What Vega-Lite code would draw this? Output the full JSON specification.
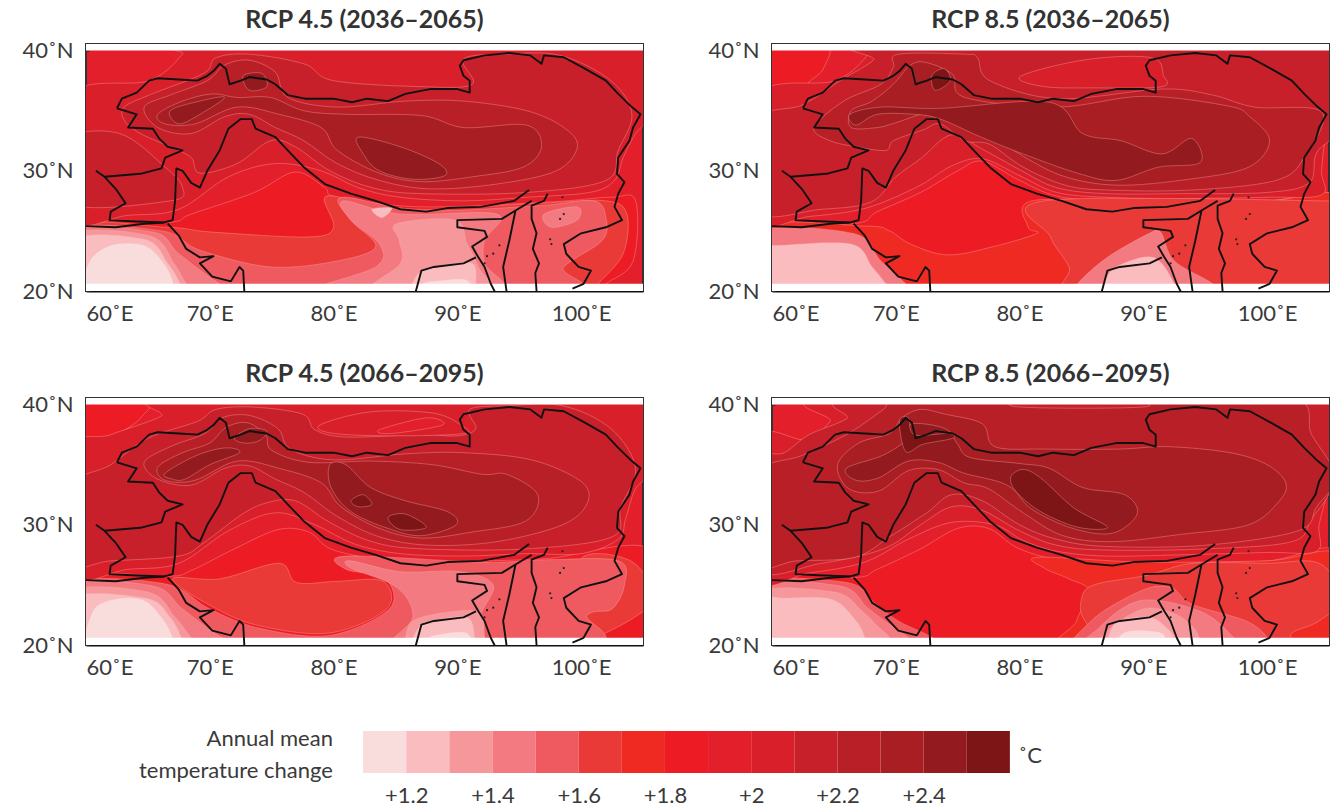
{"$schema":"https://vega.github.io/schema/vega-lite/v6.json","padding":{"left":20,"top":6,"right":5,"bottom":5},"background":"white","spacing":48,
"config":{"axis":{"labelFont":"Lato","labelFontSize":22,"labelColor":"#3a3a3a","grid":false,"title":null,"labelOverlap":false,"zindex":1},"title":{"font":"Lato","fontSize":25,"fontWeight":"bold","color":"#333","offset":7},"view":{"stroke":"#333","strokeWidth":2}},
"datasets":{
"strips":[{"a":40,"b":41},{"a":19,"b":20.6}],
"dots":[{"x":98.5,"y":27.8},{"x":98.3,"y":26},{"x":98.6,"y":26.4},{"x":97.5,"y":24.3},{"x":97.6,"y":23.9},{"x":92.4,"y":22.9},{"x":92.9,"y":23.1},{"x":93.4,"y":23.8},{"x":92.2,"y":22.3}],
"border":[{"b":1,"x":62.5,"y":35.2},{"b":1,"x":62.9,"y":36},{"b":1,"x":64.1,"y":36.5},{"b":1,"x":65.1,"y":37.5},{"b":1,"x":65.8,"y":37.7},{"b":1,"x":67.5,"y":37.6},{"b":1,"x":69,"y":37.5},{"b":1,"x":69.8,"y":37.9},{"b":1,"x":70.3,"y":38.3},{"b":1,"x":70.8,"y":38.9},{"b":1,"x":71.3,"y":38.5},{"b":1,"x":71.6,"y":37.2},{"b":1,"x":72.5,"y":37.5},{"b":1,"x":73.2,"y":37.8},{"b":1,"x":74.6,"y":37.6},{"b":1,"x":75.3,"y":37.2},{"b":1,"x":76.3,"y":36.3},{"b":1,"x":77.7,"y":36},{"b":1,"x":80,"y":36},{"b":1,"x":81.5,"y":35.7},{"b":1,"x":82.7,"y":36},{"b":1,"x":84.4,"y":35.8},{"b":1,"x":85.8,"y":36.4},{"b":1,"x":87.8,"y":36.8},{"b":1,"x":90,"y":36.8},{"b":1,"x":91,"y":36.5},{"b":1,"x":91,"y":37.5},{"b":1,"x":90.5,"y":37.9},{"b":1,"x":90.2,"y":38.75},{"b":1,"x":90.5,"y":39.2},{"b":1,"x":92.2,"y":39.6},{"b":1,"x":94.2,"y":39.8},{"b":1,"x":95.9,"y":39.6},{"b":1,"x":96.8,"y":38.9},{"b":1,"x":97,"y":39.6},{"b":1,"x":98.6,"y":39.45},{"b":1,"x":100.3,"y":38.5},{"b":1,"x":102,"y":37.5},{"b":1,"x":103,"y":36.4},{"b":1,"x":104.1,"y":35.3},{"b":1,"x":104.8,"y":34.7},{"b":1,"x":104.2,"y":33.6},{"b":1,"x":103.9,"y":32.5},{"b":1,"x":103,"y":31.1},{"b":1,"x":102.9,"y":29.75},{"b":1,"x":103.5,"y":29.05},{"b":1,"x":103,"y":28.1},{"b":1,"x":102.7,"y":27},{"b":1,"x":103.3,"y":25.9},{"b":1,"x":102,"y":25.3},{"b":1,"x":100,"y":24.8},{"b":1,"x":98.6,"y":23.9},{"b":1,"x":98.8,"y":23.1},{"b":1,"x":99.8,"y":22},{"b":1,"x":100.8,"y":21.7},{"b":1,"x":100.2,"y":20.6},{"b":1,"x":99.3,"y":20.2},
{"b":2,"x":96.4,"y":20},{"b":2,"x":96.3,"y":21.5},{"b":2,"x":96.6,"y":22.3},{"b":2,"x":96.1,"y":23.5},{"b":2,"x":96.4,"y":24.8},{"b":2,"x":96,"y":26},{"b":2,"x":96,"y":27.1},{"b":2,"x":97,"y":27.5},{"b":2,"x":97.3,"y":28.1},
{"b":3,"x":95.8,"y":28.4},{"b":3,"x":94.6,"y":27.5},{"b":3,"x":91.9,"y":27},{"b":3,"x":89.2,"y":26.9},{"b":3,"x":87.5,"y":26.6},{"b":3,"x":85.4,"y":26.8},{"b":3,"x":83.4,"y":27.5},{"b":3,"x":81.4,"y":28.1},{"b":3,"x":79.3,"y":28.9},{"b":3,"x":77.6,"y":30.3},{"b":3,"x":76.3,"y":31.7},{"b":3,"x":75.3,"y":32.8},{"b":3,"x":73.7,"y":33.5},{"b":3,"x":73.4,"y":34.3},{"b":3,"x":72.5,"y":34.3},{"b":3,"x":71.5,"y":33.5},{"b":3,"x":70.8,"y":31.7},{"b":3,"x":69.8,"y":30},{"b":3,"x":69.2,"y":28.6},{"b":3,"x":68.5,"y":29},{"b":3,"x":67.8,"y":30},{"b":3,"x":67.3,"y":30.2},{"b":3,"x":67.2,"y":27.5},{"b":3,"x":67,"y":25.9},{"b":3,"x":66.3,"y":25.7},{"b":3,"x":64.7,"y":25.6},{"b":3,"x":62.4,"y":25.3},{"b":3,"x":60,"y":25.4},
{"b":4,"x":60.8,"y":30},{"b":4,"x":61.5,"y":29.5},{"b":4,"x":64.4,"y":29.75},{"b":4,"x":66.1,"y":30.2},{"b":4,"x":66.4,"y":31.1},{"b":4,"x":67.8,"y":31.7},{"b":4,"x":66.6,"y":32},{"b":4,"x":65.9,"y":32.7},{"b":4,"x":65.4,"y":33.5},{"b":4,"x":63.4,"y":33.6},{"b":4,"x":64.1,"y":34.7},{"b":4,"x":62.5,"y":35.2},
{"b":5,"x":61.5,"y":29.5},{"b":5,"x":62.4,"y":28.5},{"b":5,"x":63.2,"y":27.3},{"b":5,"x":62,"y":26.6},{"b":5,"x":61.9,"y":25.9},{"b":5,"x":63.7,"y":25.8},{"b":5,"x":66.3,"y":25.7},
{"b":6,"x":66.6,"y":25.6},{"b":6,"x":67.5,"y":24.6},{"b":6,"x":68.1,"y":23.5},{"b":6,"x":69.2,"y":22.8},{"b":6,"x":70.3,"y":22.9},{"b":6,"x":69.2,"y":22.3},{"b":6,"x":70.2,"y":21.2},{"b":6,"x":71.7,"y":20.8},{"b":6,"x":72.4,"y":22},{"b":6,"x":72.7,"y":21.7},{"b":6,"x":72.8,"y":19.8},
{"b":7,"x":96,"y":27.5},{"b":7,"x":94.7,"y":26.7},{"b":7,"x":93.6,"y":26},{"b":7,"x":90,"y":25.9},{"b":7,"x":90,"y":25.3},{"b":7,"x":92.2,"y":25},{"b":7,"x":92.4,"y":24.5},{"b":7,"x":91.2,"y":23.7},{"b":7,"x":91.7,"y":22.8},{"b":7,"x":92.2,"y":22},{"b":7,"x":92.7,"y":20.6},{"b":7,"x":93.1,"y":19.8},
{"b":8,"x":86.6,"y":19.8},{"b":8,"x":87.1,"y":21.7},{"b":8,"x":88.1,"y":22},{"b":8,"x":90.5,"y":22.3},{"b":8,"x":91.5,"y":22.8},
{"b":9,"x":94.7,"y":26.7},{"b":9,"x":94.2,"y":24.2},{"b":9,"x":93.7,"y":22},{"b":9,"x":94,"y":19.8}],
"c1":[
{"r":1,"l":7,"x":58.6,"y":25.5},{"r":1,"l":7,"x":66.6,"y":25.7},{"r":1,"l":7,"x":68.5,"y":26.4},{"r":1,"l":7,"x":73.6,"y":28.2},{"r":1,"l":7,"x":76.9,"y":29.9},{"r":1,"l":7,"x":79.3,"y":28.6},{"r":1,"l":7,"x":80.3,"y":27.8},{"r":1,"l":7,"x":87.1,"y":27},{"r":1,"l":7,"x":97.3,"y":27.4},{"r":1,"l":7,"x":102.4,"y":27.8},{"r":1,"l":7,"x":104.4,"y":27.5},{"r":1,"l":7,"x":104.2,"y":22.5},{"r":1,"l":7,"x":102,"y":20.6},{"r":1,"l":7,"x":100.7,"y":19.5},{"r":1,"l":7,"x":58.6,"y":19.5},
{"r":2,"l":5,"x":58.6,"y":25.3},{"r":2,"l":5,"x":66.6,"y":25.3},{"r":2,"l":5,"x":70.2,"y":24.9},{"r":2,"l":5,"x":78,"y":24.5},{"r":2,"l":5,"x":80,"y":25.3},{"r":2,"l":5,"x":79.3,"y":27.8},{"r":2,"l":5,"x":82,"y":27.5},{"r":2,"l":5,"x":87.1,"y":26.8},{"r":2,"l":5,"x":96.6,"y":27.3},{"r":2,"l":5,"x":102,"y":27.5},{"r":2,"l":5,"x":103.7,"y":26.4},{"r":2,"l":5,"x":103.4,"y":23.1},{"r":2,"l":5,"x":101.4,"y":20.6},{"r":2,"l":5,"x":100.7,"y":19.5},{"r":2,"l":5,"x":58.6,"y":19.5},
{"r":3,"l":4,"x":58.6,"y":25},{"r":3,"l":4,"x":66.1,"y":25},{"r":3,"l":4,"x":69.2,"y":23.4},{"r":3,"l":4,"x":74.9,"y":22},{"r":3,"l":4,"x":80.3,"y":22.5},{"r":3,"l":4,"x":83.4,"y":23.7},{"r":3,"l":4,"x":81.4,"y":25.9},{"r":3,"l":4,"x":80.7,"y":27.8},{"r":3,"l":4,"x":87.1,"y":26.7},{"r":3,"l":4,"x":96.6,"y":27.1},{"r":3,"l":4,"x":101,"y":27.5},{"r":3,"l":4,"x":102,"y":26.1},{"r":3,"l":4,"x":101.7,"y":24.2},{"r":3,"l":4,"x":98.6,"y":22},{"r":3,"l":4,"x":97.3,"y":19.5},{"r":3,"l":4,"x":58.6,"y":19.5},
{"r":4,"l":3,"x":58.6,"y":24.9},{"r":4,"l":3,"x":65.4,"y":24.9},{"r":4,"l":3,"x":67.5,"y":23.1},{"r":4,"l":3,"x":70.8,"y":20.6},{"r":4,"l":3,"x":73.6,"y":19.5},{"r":4,"l":3,"x":58.6,"y":19.5},
{"r":5,"l":3,"x":80.8,"y":27.5},{"r":5,"l":3,"x":85.4,"y":26.4},{"r":5,"l":3,"x":93.2,"y":26.4},{"r":5,"l":3,"x":92.2,"y":24.2},{"r":5,"l":3,"x":92.2,"y":22.3},{"r":5,"l":3,"x":93.2,"y":19.5},{"r":5,"l":3,"x":77.6,"y":19.5},{"r":5,"l":3,"x":83.4,"y":22},{"r":5,"l":3,"x":83.7,"y":23.9},{"r":5,"l":3,"x":81.4,"y":25.9},
{"r":6,"l":3,"x":97,"y":26.4},{"r":6,"l":3,"x":99.7,"y":27},{"r":6,"l":3,"x":99.7,"y":25.9},{"r":6,"l":3,"x":97.6,"y":25.3},
{"r":7,"l":2,"x":58.6,"y":24.6},{"r":7,"l":2,"x":65.1,"y":24.6},{"r":7,"l":2,"x":67.1,"y":22.3},{"r":7,"l":2,"x":68.1,"y":20.6},{"r":7,"l":2,"x":69.2,"y":19.5},{"r":7,"l":2,"x":58.6,"y":19.5},
{"r":8,"l":2,"x":85.1,"y":25.6},{"r":8,"l":2,"x":89.8,"y":25.9},{"r":8,"l":2,"x":90.8,"y":23.9},{"r":8,"l":2,"x":91.7,"y":22},{"r":8,"l":2,"x":92.5,"y":19.5},{"r":8,"l":2,"x":82.7,"y":19.5},{"r":8,"l":2,"x":85.4,"y":22.3},{"r":8,"l":2,"x":85.3,"y":24.2},
{"r":9,"l":1,"x":58.6,"y":24.2},{"r":9,"l":1,"x":64.7,"y":24.3},{"r":9,"l":1,"x":66.6,"y":22.3},{"r":9,"l":1,"x":67.6,"y":20.6},{"r":9,"l":1,"x":67.8,"y":19.5},{"r":9,"l":1,"x":58.6,"y":19.5},
{"r":10,"l":1,"x":83.1,"y":26.8},{"r":10,"l":1,"x":84.7,"y":26.9},{"r":10,"l":1,"x":83.9,"y":26.1},
{"r":11,"l":1,"x":86.8,"y":21.4},{"r":11,"l":1,"x":88.5,"y":22},{"r":11,"l":1,"x":91.2,"y":22.3},{"r":11,"l":1,"x":91.5,"y":20.6},{"r":11,"l":1,"x":91.5,"y":19.5},{"r":11,"l":1,"x":86.6,"y":19.5},
{"r":12,"l":0,"x":60.2,"y":22.3},{"r":12,"l":0,"x":62,"y":23.8},{"r":12,"l":0,"x":64.7,"y":23.8},{"r":12,"l":0,"x":66.3,"y":22.3},{"r":12,"l":0,"x":67.1,"y":20.6},{"r":12,"l":0,"x":67.1,"y":19.5},{"r":12,"l":0,"x":60.2,"y":19.5},
{"r":13,"l":0,"x":87.1,"y":20.6},{"r":13,"l":0,"x":88.8,"y":20.9},{"r":13,"l":0,"x":90.8,"y":20.9},{"r":13,"l":0,"x":91.2,"y":19.5},{"r":13,"l":0,"x":87.1,"y":19.5},
{"r":14,"l":9,"x":58.6,"y":36.1},{"r":14,"l":9,"x":65.1,"y":37.5},{"r":14,"l":9,"x":67.8,"y":39.7},{"r":14,"l":9,"x":68.1,"y":40.6},{"r":14,"l":9,"x":106,"y":40.6},{"r":14,"l":9,"x":106,"y":35.3},{"r":14,"l":9,"x":104.4,"y":33.1},{"r":14,"l":9,"x":103.4,"y":31.1},{"r":14,"l":9,"x":102.7,"y":29.2},{"r":14,"l":9,"x":100.7,"y":28.2},{"r":14,"l":9,"x":95.6,"y":27.8},{"r":14,"l":9,"x":90.5,"y":27.5},{"r":14,"l":9,"x":85.4,"y":27.8},{"r":14,"l":9,"x":82,"y":28.6},{"r":14,"l":9,"x":79,"y":30},{"r":14,"l":9,"x":75.3,"y":30.6},{"r":14,"l":9,"x":71.5,"y":29.5},{"r":14,"l":9,"x":67.5,"y":26.8},{"r":14,"l":9,"x":63.4,"y":26.3},{"r":14,"l":9,"x":58.6,"y":26.1},
{"r":15,"l":10,"x":63.1,"y":35.3},{"r":15,"l":10,"x":65.1,"y":36.3},{"r":15,"l":10,"x":69.5,"y":38.1},{"r":15,"l":10,"x":70.5,"y":39.4},{"r":15,"l":10,"x":73.2,"y":39.7},{"r":15,"l":10,"x":77.6,"y":38.9},{"r":15,"l":10,"x":80,"y":37.5},{"r":15,"l":10,"x":87.1,"y":37},{"r":15,"l":10,"x":91.2,"y":37.2},{"r":15,"l":10,"x":90.5,"y":39.3},{"r":15,"l":10,"x":93.9,"y":39.7},{"r":15,"l":10,"x":98.3,"y":39.6},{"r":15,"l":10,"x":102.4,"y":37.5},{"r":15,"l":10,"x":104.1,"y":34.7},{"r":15,"l":10,"x":103,"y":31.7},{"r":15,"l":10,"x":102,"y":29.2},{"r":15,"l":10,"x":95.6,"y":28.2},{"r":15,"l":10,"x":87.1,"y":28.1},{"r":15,"l":10,"x":83.1,"y":28.6},{"r":15,"l":10,"x":79.7,"y":30},{"r":15,"l":10,"x":76.9,"y":32},{"r":15,"l":10,"x":74.9,"y":32.5},{"r":15,"l":10,"x":72.2,"y":30.6},{"r":15,"l":10,"x":69.2,"y":29.8},{"r":15,"l":10,"x":68.5,"y":31.1},{"r":15,"l":10,"x":66.8,"y":32},{"r":15,"l":10,"x":64.4,"y":33.1},{"r":15,"l":10,"x":63.1,"y":34.2},
{"r":16,"l":10,"x":58.6,"y":32.5},{"r":16,"l":10,"x":62.7,"y":33.1},{"r":16,"l":10,"x":66.4,"y":30.3},{"r":16,"l":10,"x":67.8,"y":28.6},{"r":16,"l":10,"x":66.8,"y":27.5},{"r":16,"l":10,"x":58.6,"y":27.3},
{"r":17,"l":11,"x":64.7,"y":35.3},{"r":17,"l":11,"x":66.8,"y":36.3},{"r":17,"l":11,"x":69.8,"y":37.5},{"r":17,"l":11,"x":71.2,"y":38.8},{"r":17,"l":11,"x":73.2,"y":39.2},{"r":17,"l":11,"x":75.3,"y":38.2},{"r":17,"l":11,"x":76.3,"y":36.1},{"r":17,"l":11,"x":80.3,"y":35.3},{"r":17,"l":11,"x":85.8,"y":35.8},{"r":17,"l":11,"x":90.5,"y":35.8},{"r":17,"l":11,"x":95.6,"y":35},{"r":17,"l":11,"x":98.6,"y":33.6},{"r":17,"l":11,"x":99.7,"y":32},{"r":17,"l":11,"x":98,"y":30},{"r":17,"l":11,"x":93.2,"y":28.9},{"r":17,"l":11,"x":87.8,"y":28.5},{"r":17,"l":11,"x":83.7,"y":29.2},{"r":17,"l":11,"x":80.3,"y":30.6},{"r":17,"l":11,"x":77.6,"y":32.5},{"r":17,"l":11,"x":75.3,"y":33.6},{"r":17,"l":11,"x":73.2,"y":34.7},{"r":17,"l":11,"x":71.2,"y":34.5},{"r":17,"l":11,"x":68.5,"y":33.1},{"r":17,"l":11,"x":65.8,"y":33.6},
{"r":18,"l":12,"x":65.8,"y":34.7},{"r":18,"l":12,"x":67.8,"y":35.8},{"r":18,"l":12,"x":70.2,"y":36.4},{"r":18,"l":12,"x":72.2,"y":36.1},{"r":18,"l":12,"x":74.9,"y":36.1},{"r":18,"l":12,"x":77.6,"y":35},{"r":18,"l":12,"x":81,"y":34.7},{"r":18,"l":12,"x":87.1,"y":34.6},{"r":18,"l":12,"x":90.5,"y":33.6},{"r":18,"l":12,"x":95.6,"y":33.8},{"r":18,"l":12,"x":96.8,"y":32},{"r":18,"l":12,"x":95.3,"y":30.3},{"r":18,"l":12,"x":91.2,"y":29.5},{"r":18,"l":12,"x":87.1,"y":29.1},{"r":18,"l":12,"x":83.7,"y":29.8},{"r":18,"l":12,"x":80.3,"y":31.7},{"r":18,"l":12,"x":79,"y":33.6},{"r":18,"l":12,"x":75.6,"y":34.7},{"r":18,"l":12,"x":72.2,"y":35.3},{"r":18,"l":12,"x":68.8,"y":33.9},{"r":18,"l":12,"x":66.4,"y":33.9},
{"r":19,"l":13,"x":66.8,"y":35},{"r":19,"l":13,"x":69.2,"y":35.8},{"r":19,"l":13,"x":71.2,"y":36.1},{"r":19,"l":13,"x":69.2,"y":34.7},{"r":19,"l":13,"x":67.5,"y":33.9},
{"r":20,"l":13,"x":72.7,"y":37.9},{"r":20,"l":13,"x":74.2,"y":38.1},{"r":20,"l":13,"x":74.6,"y":37},{"r":20,"l":13,"x":73.2,"y":36.7},
{"r":21,"l":13,"x":82,"y":32.8},{"r":21,"l":13,"x":85.4,"y":32},{"r":21,"l":13,"x":88.5,"y":30.6},{"r":21,"l":13,"x":89,"y":29.6},{"r":21,"l":13,"x":86.4,"y":29.3},{"r":21,"l":13,"x":83.7,"y":30},{"r":21,"l":13,"x":82.4,"y":31.4}
],
"c2":[
{"r":1,"l":7,"x":58.6,"y":25.5},{"r":1,"l":7,"x":66.6,"y":25.6},{"r":1,"l":7,"x":68.5,"y":26.6},{"r":1,"l":7,"x":72,"y":28.2},{"r":1,"l":7,"x":75,"y":30},{"r":1,"l":7,"x":77,"y":30.8},{"r":1,"l":7,"x":80,"y":29.2},{"r":1,"l":7,"x":83,"y":27.9},{"r":1,"l":7,"x":87,"y":27.5},{"r":1,"l":7,"x":93,"y":27.4},{"r":1,"l":7,"x":100,"y":27.5},{"r":1,"l":7,"x":106,"y":27.6},{"r":1,"l":7,"x":106,"y":19},{"r":1,"l":7,"x":58.6,"y":19},
{"r":2,"l":6,"x":58.6,"y":25.2},{"r":2,"l":6,"x":67.5,"y":25.4},{"r":2,"l":6,"x":69.5,"y":25},{"r":2,"l":6,"x":71.2,"y":23.9},{"r":2,"l":6,"x":74.2,"y":23},{"r":2,"l":6,"x":77.9,"y":23.7},{"r":2,"l":6,"x":81.4,"y":24.8},{"r":2,"l":6,"x":80.7,"y":25.3},{"r":2,"l":6,"x":81,"y":27.5},{"r":2,"l":6,"x":90,"y":27.4},{"r":2,"l":6,"x":100,"y":27.5},{"r":2,"l":6,"x":106,"y":27.6},{"r":2,"l":6,"x":106,"y":19},{"r":2,"l":6,"x":58.6,"y":19},
{"r":3,"l":5,"x":82,"y":27.5},{"r":3,"l":5,"x":104,"y":27.5},{"r":3,"l":5,"x":106,"y":27},{"r":3,"l":5,"x":106,"y":19},{"r":3,"l":5,"x":85,"y":19},{"r":3,"l":5,"x":84,"y":22},{"r":3,"l":5,"x":82.5,"y":24.5},
{"r":4,"l":3,"x":58.6,"y":24.8},{"r":4,"l":3,"x":66.5,"y":24.8},{"r":4,"l":3,"x":68.8,"y":22.5},{"r":4,"l":3,"x":70.8,"y":20.6},{"r":4,"l":3,"x":71.5,"y":19.5},{"r":4,"l":3,"x":58.6,"y":19.5},
{"r":5,"l":1,"x":60.7,"y":23.8},{"r":5,"l":1,"x":66.4,"y":23.9},{"r":5,"l":1,"x":68.1,"y":22},{"r":5,"l":1,"x":69.2,"y":20.6},{"r":5,"l":1,"x":70,"y":19.5},{"r":5,"l":1,"x":58.6,"y":19.5},{"r":5,"l":1,"x":58.6,"y":23.5},
{"r":6,"l":3,"x":84.7,"y":20.6},{"r":6,"l":3,"x":87.1,"y":22.8},{"r":6,"l":3,"x":90.5,"y":24.8},{"r":6,"l":3,"x":91.4,"y":24.9},{"r":6,"l":3,"x":92.5,"y":22.5},{"r":6,"l":3,"x":95.6,"y":20.6},{"r":6,"l":3,"x":95.9,"y":19.5},{"r":6,"l":3,"x":84.6,"y":19.5},
{"r":7,"l":1,"x":86.8,"y":20.6},{"r":7,"l":1,"x":87.8,"y":22},{"r":7,"l":1,"x":90.8,"y":22.8},{"r":7,"l":1,"x":92.5,"y":20.6},{"r":7,"l":1,"x":92.5,"y":19.5},{"r":7,"l":1,"x":86.6,"y":19.5},
{"r":8,"l":7,"x":58,"y":40.6},{"r":8,"l":7,"x":64.2,"y":40.6},{"r":8,"l":7,"x":64.2,"y":38.6},{"r":8,"l":7,"x":63.1,"y":37.5},{"r":8,"l":7,"x":62,"y":36.7},{"r":8,"l":7,"x":58,"y":36.5},
{"r":9,"l":9,"x":58.6,"y":36.1},{"r":9,"l":9,"x":65.1,"y":37.5},{"r":9,"l":9,"x":67.8,"y":39.7},{"r":9,"l":9,"x":68.1,"y":40.6},{"r":9,"l":9,"x":106,"y":40.6},{"r":9,"l":9,"x":106,"y":36},{"r":9,"l":9,"x":104.8,"y":33},{"r":9,"l":9,"x":104.4,"y":30},{"r":9,"l":9,"x":104.4,"y":28},{"r":9,"l":9,"x":100,"y":27.8},{"r":9,"l":9,"x":93,"y":27.7},{"r":9,"l":9,"x":87,"y":27.8},{"r":9,"l":9,"x":83,"y":28.2},{"r":9,"l":9,"x":80,"y":29.6},{"r":9,"l":9,"x":77,"y":31},{"r":9,"l":9,"x":74.5,"y":30.4},{"r":9,"l":9,"x":71.8,"y":28.7},{"r":9,"l":9,"x":67.6,"y":26.9},{"r":9,"l":9,"x":63,"y":26.2},{"r":9,"l":9,"x":58.6,"y":26},
{"r":10,"l":10,"x":58.6,"y":34},{"r":10,"l":10,"x":62.5,"y":35.5},{"r":10,"l":10,"x":65.5,"y":37.5},{"r":10,"l":10,"x":68.2,"y":39.2},{"r":10,"l":10,"x":69,"y":40.6},{"r":10,"l":10,"x":106,"y":40.6},{"r":10,"l":10,"x":106,"y":34},{"r":10,"l":10,"x":104,"y":31.5},{"r":10,"l":10,"x":103.4,"y":29},{"r":10,"l":10,"x":100,"y":28.2},{"r":10,"l":10,"x":93,"y":28.1},{"r":10,"l":10,"x":87,"y":28.1},{"r":10,"l":10,"x":83,"y":28.6},{"r":10,"l":10,"x":80,"y":30.1},{"r":10,"l":10,"x":77,"y":31.8},{"r":10,"l":10,"x":74.5,"y":33},{"r":10,"l":10,"x":72,"y":31},{"r":10,"l":10,"x":70,"y":29.5},{"r":10,"l":10,"x":68,"y":27.4},{"r":10,"l":10,"x":64,"y":26.8},{"r":10,"l":10,"x":58.6,"y":26.7},
{"r":11,"l":9,"x":80,"y":37.8},{"r":11,"l":9,"x":84,"y":39},{"r":11,"l":9,"x":88,"y":39.5},{"r":11,"l":9,"x":91,"y":39.3},{"r":11,"l":9,"x":91.6,"y":38},{"r":11,"l":9,"x":91.5,"y":37},{"r":11,"l":9,"x":86,"y":36.9},{"r":11,"l":9,"x":82,"y":37},
{"r":12,"l":11,"x":65.8,"y":35.8},{"r":12,"l":11,"x":68.8,"y":37.2},{"r":12,"l":11,"x":69.8,"y":38.6},{"r":12,"l":11,"x":70.2,"y":39.7},{"r":12,"l":11,"x":75.6,"y":39.7},{"r":12,"l":11,"x":76.6,"y":39.4},{"r":12,"l":11,"x":77.6,"y":37.5},{"r":12,"l":11,"x":83.1,"y":36},{"r":12,"l":11,"x":91.5,"y":36.8},{"r":12,"l":11,"x":95.6,"y":36.3},{"r":12,"l":11,"x":99,"y":35.3},{"r":12,"l":11,"x":104.4,"y":34.9},{"r":12,"l":11,"x":103,"y":31.1},{"r":12,"l":11,"x":100.7,"y":29.2},{"r":12,"l":11,"x":93.9,"y":28.4},{"r":12,"l":11,"x":87.1,"y":28.4},{"r":12,"l":11,"x":83.7,"y":28.8},{"r":12,"l":11,"x":80.3,"y":30.3},{"r":12,"l":11,"x":77.6,"y":32.2},{"r":12,"l":11,"x":75.6,"y":32.5},{"r":12,"l":11,"x":73.6,"y":33.9},{"r":12,"l":11,"x":72.2,"y":33.4},{"r":12,"l":11,"x":69.8,"y":32.5},{"r":12,"l":11,"x":69.2,"y":31.7},{"r":12,"l":11,"x":66.8,"y":32},{"r":12,"l":11,"x":64.7,"y":32.5},{"r":12,"l":11,"x":63.4,"y":33.6},
{"r":13,"l":12,"x":66.4,"y":35},{"r":13,"l":12,"x":68.1,"y":35.8},{"r":13,"l":12,"x":69.8,"y":37.2},{"r":13,"l":12,"x":71.2,"y":38.8},{"r":13,"l":12,"x":72.5,"y":39},{"r":13,"l":12,"x":74.6,"y":38},{"r":13,"l":12,"x":75.6,"y":36.1},{"r":13,"l":12,"x":83,"y":35.3},{"r":13,"l":12,"x":90,"y":36.2},{"r":13,"l":12,"x":96.8,"y":35.4},{"r":13,"l":12,"x":98.6,"y":34.5},{"r":13,"l":12,"x":100.2,"y":32.5},{"r":13,"l":12,"x":98.5,"y":30.3},{"r":13,"l":12,"x":93.7,"y":29.3},{"r":13,"l":12,"x":88,"y":28.8},{"r":13,"l":12,"x":83.7,"y":29.5},{"r":13,"l":12,"x":80.3,"y":31.2},{"r":13,"l":12,"x":77.6,"y":33},{"r":13,"l":12,"x":74.6,"y":34},{"r":13,"l":12,"x":73,"y":34.9},{"r":13,"l":12,"x":70,"y":34},{"r":13,"l":12,"x":68.5,"y":33.6},{"r":13,"l":12,"x":66.4,"y":33.6},
{"r":14,"l":13,"x":66.3,"y":34.7},{"r":14,"l":13,"x":68.8,"y":35.3},{"r":14,"l":13,"x":73.6,"y":35.2},{"r":14,"l":13,"x":82.4,"y":35.7},{"r":14,"l":13,"x":85.1,"y":33.1},{"r":14,"l":13,"x":88.2,"y":32.5},{"r":14,"l":13,"x":91.5,"y":31.4},{"r":14,"l":13,"x":93.9,"y":32.7},{"r":14,"l":13,"x":94.6,"y":30.7},{"r":14,"l":13,"x":91.2,"y":30.3},{"r":14,"l":13,"x":87.8,"y":29.2},{"r":14,"l":13,"x":84.7,"y":29.8},{"r":14,"l":13,"x":80.3,"y":31.4},{"r":14,"l":13,"x":76.9,"y":32.8},{"r":14,"l":13,"x":73.6,"y":34.3},{"r":14,"l":13,"x":71.5,"y":34.7},{"r":14,"l":13,"x":68.5,"y":34.7},{"r":14,"l":13,"x":66.8,"y":33.8},
{"r":15,"l":14,"x":72.9,"y":37.9},{"r":15,"l":14,"x":73.9,"y":38.5},{"r":15,"l":14,"x":74.4,"y":37.5},{"r":15,"l":14,"x":73.2,"y":36.7}
],
"c3":[
{"r":1,"l":7,"x":58.6,"y":25.5},{"r":1,"l":7,"x":66.6,"y":25.7},{"r":1,"l":7,"x":68.5,"y":26.2},{"r":1,"l":7,"x":72,"y":28},{"r":1,"l":7,"x":75.5,"y":29.6},{"r":1,"l":7,"x":78,"y":29.4},{"r":1,"l":7,"x":80,"y":27.9},{"r":1,"l":7,"x":85,"y":27},{"r":1,"l":7,"x":92,"y":27},{"r":1,"l":7,"x":97.3,"y":27.2},{"r":1,"l":7,"x":106,"y":27.8},{"r":1,"l":7,"x":106,"y":19},{"r":1,"l":7,"x":58.6,"y":19},
{"r":2,"l":5,"x":100,"y":27.2},{"r":2,"l":5,"x":104,"y":27},{"r":2,"l":5,"x":106,"y":24},{"r":2,"l":5,"x":104.6,"y":22.5},{"r":2,"l":5,"x":102,"y":21},{"r":2,"l":5,"x":100.5,"y":20.4},{"r":2,"l":5,"x":100,"y":22.5},
{"r":3,"l":5,"x":67,"y":25.5},{"r":3,"l":5,"x":70.8,"y":25.5},{"r":3,"l":5,"x":75.6,"y":26.8},{"r":3,"l":5,"x":77,"y":25.2},{"r":3,"l":5,"x":80.3,"y":25.3},{"r":3,"l":5,"x":84,"y":25.3},{"r":3,"l":5,"x":84.3,"y":23},{"r":3,"l":5,"x":79.7,"y":21},{"r":3,"l":5,"x":74,"y":21.6},{"r":3,"l":5,"x":70.2,"y":23.2},
{"r":4,"l":4,"x":58.6,"y":25},{"r":4,"l":4,"x":66.3,"y":25.1},{"r":4,"l":4,"x":70,"y":23},{"r":4,"l":4,"x":74,"y":21.4},{"r":4,"l":4,"x":79.7,"y":20.8},{"r":4,"l":4,"x":84.5,"y":23},{"r":4,"l":4,"x":84.2,"y":25.5},{"r":4,"l":4,"x":81,"y":26.3},{"r":4,"l":4,"x":81,"y":27.4},{"r":4,"l":4,"x":92,"y":26.9},{"r":4,"l":4,"x":97.3,"y":27.1},{"r":4,"l":4,"x":103,"y":27},{"r":4,"l":4,"x":103.5,"y":25},{"r":4,"l":4,"x":102.5,"y":23},{"r":4,"l":4,"x":100.5,"y":22.5},{"r":4,"l":4,"x":98.5,"y":19.5},{"r":4,"l":4,"x":58.6,"y":19.5},
{"r":5,"l":3,"x":58.6,"y":24.9},{"r":5,"l":3,"x":65.4,"y":24.9},{"r":5,"l":3,"x":67.8,"y":23},{"r":5,"l":3,"x":71,"y":20.6},{"r":5,"l":3,"x":74,"y":19.5},{"r":5,"l":3,"x":58.6,"y":19.5},
{"r":6,"l":2,"x":58.6,"y":24.4},{"r":6,"l":2,"x":65,"y":24.4},{"r":6,"l":2,"x":67.2,"y":22.3},{"r":6,"l":2,"x":68.5,"y":20.6},{"r":6,"l":2,"x":69.5,"y":19.5},{"r":6,"l":2,"x":58.6,"y":19.5},
{"r":7,"l":1,"x":58.6,"y":23.9},{"r":7,"l":1,"x":64.8,"y":23.9},{"r":7,"l":1,"x":66.8,"y":22.3},{"r":7,"l":1,"x":67.7,"y":20.6},{"r":7,"l":1,"x":68,"y":19.5},{"r":7,"l":1,"x":58.6,"y":19.5},
{"r":8,"l":0,"x":60.4,"y":22.5},{"r":8,"l":0,"x":61.8,"y":23.7},{"r":8,"l":0,"x":64.5,"y":23.8},{"r":8,"l":0,"x":66.2,"y":22.2},{"r":8,"l":0,"x":67,"y":20.6},{"r":8,"l":0,"x":67,"y":19.5},{"r":8,"l":0,"x":60.4,"y":19.5},
{"r":9,"l":3,"x":81.4,"y":27},{"r":9,"l":3,"x":85.4,"y":26.1},{"r":9,"l":3,"x":90.2,"y":26.1},{"r":9,"l":3,"x":92.9,"y":25},{"r":9,"l":3,"x":91.9,"y":22.5},{"r":9,"l":3,"x":92.2,"y":20.6},{"r":9,"l":3,"x":92.2,"y":19.5},{"r":9,"l":3,"x":84.5,"y":19.5},{"r":9,"l":3,"x":86.4,"y":22.3},{"r":9,"l":3,"x":85.1,"y":24.8},{"r":9,"l":3,"x":81.4,"y":26.4},
{"r":10,"l":2,"x":86.8,"y":22.2},{"r":10,"l":2,"x":91.5,"y":22.8},{"r":10,"l":2,"x":92.2,"y":20.6},{"r":10,"l":2,"x":92.2,"y":19.5},{"r":10,"l":2,"x":85.8,"y":19.5},{"r":10,"l":2,"x":85.8,"y":20.6},
{"r":11,"l":1,"x":86.9,"y":21.5},{"r":11,"l":1,"x":88,"y":22},{"r":11,"l":1,"x":90.8,"y":22.3},{"r":11,"l":1,"x":91.4,"y":20.6},{"r":11,"l":1,"x":91.4,"y":19.5},{"r":11,"l":1,"x":86.6,"y":19.5},
{"r":12,"l":0,"x":87.6,"y":20.6},{"r":12,"l":0,"x":90,"y":21.1},{"r":12,"l":0,"x":91,"y":20.8},{"r":12,"l":0,"x":91,"y":19.5},{"r":12,"l":0,"x":87.5,"y":19.5},
{"r":13,"l":7,"x":58,"y":40.6},{"r":13,"l":7,"x":65,"y":40.6},{"r":13,"l":7,"x":64.5,"y":39},{"r":13,"l":7,"x":63,"y":37.8},{"r":13,"l":7,"x":60.5,"y":36.4},{"r":13,"l":7,"x":58,"y":36.2},
{"r":14,"l":9,"x":58.6,"y":36.1},{"r":14,"l":9,"x":62,"y":37.5},{"r":14,"l":9,"x":66,"y":39},{"r":14,"l":9,"x":68.1,"y":40.6},{"r":14,"l":9,"x":106,"y":40.6},{"r":14,"l":9,"x":106,"y":35},{"r":14,"l":9,"x":104.4,"y":33},{"r":14,"l":9,"x":103.6,"y":30.5},{"r":14,"l":9,"x":103,"y":28.8},{"r":14,"l":9,"x":100,"y":27.6},{"r":14,"l":9,"x":95.6,"y":27.6},{"r":14,"l":9,"x":90.5,"y":27.4},{"r":14,"l":9,"x":85.4,"y":27.6},{"r":14,"l":9,"x":81.7,"y":28.4},{"r":14,"l":9,"x":78.5,"y":30},{"r":14,"l":9,"x":75.3,"y":31},{"r":14,"l":9,"x":71.5,"y":29.5},{"r":14,"l":9,"x":67.5,"y":26.8},{"r":14,"l":9,"x":63.4,"y":26.3},{"r":14,"l":9,"x":58.6,"y":26},
{"r":15,"l":10,"x":58.6,"y":33},{"r":15,"l":10,"x":62,"y":35},{"r":15,"l":10,"x":65,"y":37.2},{"r":15,"l":10,"x":69,"y":38.6},{"r":15,"l":10,"x":70.5,"y":39.6},{"r":15,"l":10,"x":73.5,"y":39.8},{"r":15,"l":10,"x":77.5,"y":39.2},{"r":15,"l":10,"x":78.5,"y":37.9},{"r":15,"l":10,"x":81,"y":37.3},{"r":15,"l":10,"x":87,"y":37.5},{"r":15,"l":10,"x":90,"y":37.4},{"r":15,"l":10,"x":91.5,"y":38},{"r":15,"l":10,"x":91,"y":39.6},{"r":15,"l":10,"x":94,"y":39.9},{"r":15,"l":10,"x":98.5,"y":39.9},{"r":15,"l":10,"x":102.4,"y":38},{"r":15,"l":10,"x":104.4,"y":34.7},{"r":15,"l":10,"x":103.2,"y":31.5},{"r":15,"l":10,"x":102.5,"y":29},{"r":15,"l":10,"x":95.6,"y":28},{"r":15,"l":10,"x":87.1,"y":28},{"r":15,"l":10,"x":83.1,"y":28.6},{"r":15,"l":10,"x":79.7,"y":30.2},{"r":15,"l":10,"x":76.9,"y":32},{"r":15,"l":10,"x":74.5,"y":31.8},{"r":15,"l":10,"x":72.5,"y":30.8},{"r":15,"l":10,"x":69.5,"y":28.5},{"r":15,"l":10,"x":67.5,"y":27.4},{"r":15,"l":10,"x":62,"y":27},{"r":15,"l":10,"x":58.6,"y":26.8},
{"r":16,"l":9,"x":78.9,"y":38.3},{"r":16,"l":9,"x":83,"y":39.4},{"r":16,"l":9,"x":88,"y":39.3},{"r":16,"l":9,"x":90.3,"y":38.3},{"r":16,"l":9,"x":90.5,"y":37.6},{"r":16,"l":9,"x":85,"y":37.4},{"r":16,"l":9,"x":80,"y":37.6},
{"r":17,"l":8,"x":83.7,"y":37.9},{"r":17,"l":8,"x":87.5,"y":38.9},{"r":17,"l":8,"x":88.8,"y":38.3},{"r":17,"l":8,"x":84.7,"y":37.6},
{"r":18,"l":11,"x":64.7,"y":35.2},{"r":18,"l":11,"x":66.8,"y":36.5},{"r":18,"l":11,"x":69.6,"y":37.6},{"r":18,"l":11,"x":71,"y":38.9},{"r":18,"l":11,"x":73.2,"y":39.1},{"r":18,"l":11,"x":75.5,"y":38},{"r":18,"l":11,"x":76.5,"y":36.3},{"r":18,"l":11,"x":80,"y":35.4},{"r":18,"l":11,"x":85.8,"y":35.9},{"r":18,"l":11,"x":90.5,"y":36},{"r":18,"l":11,"x":96,"y":35.4},{"r":18,"l":11,"x":100,"y":33.6},{"r":18,"l":11,"x":100.5,"y":31.8},{"r":18,"l":11,"x":98.5,"y":30},{"r":18,"l":11,"x":93.2,"y":28.6},{"r":18,"l":11,"x":87.8,"y":28.3},{"r":18,"l":11,"x":83.7,"y":29},{"r":18,"l":11,"x":80.3,"y":30.7},{"r":18,"l":11,"x":77.6,"y":32.7},{"r":18,"l":11,"x":75.3,"y":33.8},{"r":18,"l":11,"x":73.2,"y":34.9},{"r":18,"l":11,"x":71.2,"y":34.7},{"r":18,"l":11,"x":68.5,"y":33.3},{"r":18,"l":11,"x":65.8,"y":33.8},
{"r":19,"l":12,"x":65.8,"y":34.8},{"r":19,"l":12,"x":67.8,"y":36},{"r":19,"l":12,"x":70,"y":36.8},{"r":19,"l":12,"x":71.3,"y":38.1},{"r":19,"l":12,"x":73,"y":38.5},{"r":19,"l":12,"x":74.5,"y":37.5},{"r":19,"l":12,"x":75,"y":36.2},{"r":19,"l":12,"x":78,"y":35.2},{"r":19,"l":12,"x":83,"y":35.3},{"r":19,"l":12,"x":88,"y":35},{"r":19,"l":12,"x":92,"y":34.2},{"r":19,"l":12,"x":94,"y":34.2},{"r":19,"l":12,"x":96.5,"y":32.5},{"r":19,"l":12,"x":95.5,"y":30.3},{"r":19,"l":12,"x":91.2,"y":29.4},{"r":19,"l":12,"x":87.1,"y":28.9},{"r":19,"l":12,"x":83.7,"y":29.7},{"r":19,"l":12,"x":80.6,"y":31.5},{"r":19,"l":12,"x":79,"y":33.5},{"r":19,"l":12,"x":75.6,"y":34.7},{"r":19,"l":12,"x":72.2,"y":35.3},{"r":19,"l":12,"x":68.8,"y":33.7},{"r":19,"l":12,"x":66.4,"y":33.7},
{"r":20,"l":13,"x":66.4,"y":34.3},{"r":20,"l":13,"x":69,"y":35.8},{"r":20,"l":13,"x":71.3,"y":36.4},{"r":20,"l":13,"x":72.4,"y":36},{"r":20,"l":13,"x":70,"y":35},{"r":20,"l":13,"x":68,"y":33.8},{"r":20,"l":13,"x":67,"y":33.8},
{"r":21,"l":13,"x":72,"y":37.2},{"r":21,"l":13,"x":73.2,"y":38},{"r":21,"l":13,"x":74.6,"y":37.8},{"r":21,"l":13,"x":74,"y":37},{"r":21,"l":13,"x":72.8,"y":36.8},
{"r":22,"l":13,"x":79.7,"y":35},{"r":22,"l":13,"x":81,"y":35},{"r":22,"l":13,"x":83,"y":33.1},{"r":22,"l":13,"x":85.8,"y":32},{"r":22,"l":13,"x":89.2,"y":31.1},{"r":22,"l":13,"x":89.9,"y":30},{"r":22,"l":13,"x":87.1,"y":29.1},{"r":22,"l":13,"x":84.4,"y":29.7},{"r":22,"l":13,"x":81.4,"y":31.1},{"r":22,"l":13,"x":79.8,"y":33.1},
{"r":23,"l":14,"x":81.4,"y":32},{"r":23,"l":14,"x":82.4,"y":32.5},{"r":23,"l":14,"x":83.1,"y":31.7},{"r":23,"l":14,"x":82,"y":31.5},
{"r":24,"l":14,"x":84.4,"y":30.6},{"r":24,"l":14,"x":85.8,"y":30.9},{"r":24,"l":14,"x":87.5,"y":29.8},{"r":24,"l":14,"x":85.4,"y":29.6}
],
"c4":[
{"r":1,"l":7,"x":58.6,"y":25.5},{"r":1,"l":7,"x":66.6,"y":25.6},{"r":1,"l":7,"x":68.5,"y":26.3},{"r":1,"l":7,"x":72,"y":28},{"r":1,"l":7,"x":75,"y":29.7},{"r":1,"l":7,"x":77.5,"y":29.7},{"r":1,"l":7,"x":80,"y":28},{"r":1,"l":7,"x":84,"y":27},{"r":1,"l":7,"x":92,"y":26.8},{"r":1,"l":7,"x":100,"y":27},{"r":1,"l":7,"x":106,"y":27.6},{"r":1,"l":7,"x":106,"y":19},{"r":1,"l":7,"x":58.6,"y":19},
{"r":2,"l":6,"x":81.5,"y":27.3},{"r":2,"l":6,"x":90,"y":26.9},{"r":2,"l":6,"x":100,"y":27},{"r":2,"l":6,"x":106,"y":27.3},{"r":2,"l":6,"x":106,"y":19},{"r":2,"l":6,"x":84,"y":19},{"r":2,"l":6,"x":84.6,"y":22},{"r":2,"l":6,"x":85.6,"y":24.5},{"r":2,"l":6,"x":84,"y":25.5},{"r":2,"l":6,"x":82,"y":26.4},
{"r":3,"l":5,"x":86,"y":25},{"r":3,"l":5,"x":90.3,"y":25.8},{"r":3,"l":5,"x":94,"y":26.8},{"r":3,"l":5,"x":100,"y":26.8},{"r":3,"l":5,"x":104.2,"y":26.8},{"r":3,"l":5,"x":106,"y":24},{"r":3,"l":5,"x":104.2,"y":22},{"r":3,"l":5,"x":102,"y":21},{"r":3,"l":5,"x":101,"y":19.5},{"r":3,"l":5,"x":88,"y":19.5},{"r":3,"l":5,"x":85.3,"y":22},{"r":3,"l":5,"x":85,"y":23.8},
{"r":4,"l":4,"x":85.8,"y":22},{"r":4,"l":4,"x":89.8,"y":24.5},{"r":4,"l":4,"x":92.2,"y":24.8},{"r":4,"l":4,"x":93.9,"y":23.4},{"r":4,"l":4,"x":98.3,"y":22},{"r":4,"l":4,"x":100,"y":20.6},{"r":4,"l":4,"x":100,"y":19.5},{"r":4,"l":4,"x":85.4,"y":19.5},
{"r":5,"l":3,"x":86.4,"y":21.4},{"r":5,"l":3,"x":89.8,"y":23.7},{"r":5,"l":3,"x":94.6,"y":22.8},{"r":5,"l":3,"x":97.3,"y":20.6},{"r":5,"l":3,"x":97.6,"y":19.5},{"r":5,"l":3,"x":85.7,"y":19.5},
{"r":6,"l":2,"x":87,"y":21.1},{"r":6,"l":2,"x":90,"y":23},{"r":6,"l":2,"x":92.5,"y":22.6},{"r":6,"l":2,"x":94,"y":21.5},{"r":6,"l":2,"x":94.5,"y":20.6},{"r":6,"l":2,"x":94.5,"y":19.5},{"r":6,"l":2,"x":87,"y":19.5},
{"r":7,"l":1,"x":87.2,"y":20.7},{"r":7,"l":1,"x":88,"y":22},{"r":7,"l":1,"x":90.5,"y":22.3},{"r":7,"l":1,"x":91.8,"y":21.5},{"r":7,"l":1,"x":92.5,"y":20.6},{"r":7,"l":1,"x":92.5,"y":19.5},{"r":7,"l":1,"x":87.2,"y":19.5},
{"r":8,"l":0,"x":88,"y":20.6},{"r":8,"l":0,"x":89,"y":21.2},{"r":8,"l":0,"x":91.2,"y":21.1},{"r":8,"l":0,"x":91.8,"y":20.6},{"r":8,"l":0,"x":91.8,"y":19.5},{"r":8,"l":0,"x":88,"y":19.5},
{"r":9,"l":4,"x":58.6,"y":25},{"r":9,"l":4,"x":66,"y":25.2},{"r":9,"l":4,"x":68.3,"y":23.5},{"r":9,"l":4,"x":70.2,"y":22},{"r":9,"l":4,"x":73,"y":20.6},{"r":9,"l":4,"x":74,"y":19.5},{"r":9,"l":4,"x":58.6,"y":19.5},
{"r":10,"l":3,"x":58.6,"y":24.8},{"r":10,"l":3,"x":65.5,"y":24.9},{"r":10,"l":3,"x":67.7,"y":23.1},{"r":10,"l":3,"x":69.5,"y":21.7},{"r":10,"l":3,"x":71,"y":20.6},{"r":10,"l":3,"x":71.5,"y":19.5},{"r":10,"l":3,"x":58.6,"y":19.5},
{"r":11,"l":2,"x":58.6,"y":24.3},{"r":11,"l":2,"x":65,"y":24.4},{"r":11,"l":2,"x":67.2,"y":22.9},{"r":11,"l":2,"x":68.6,"y":21.5},{"r":11,"l":2,"x":69.5,"y":20.6},{"r":11,"l":2,"x":69.6,"y":19.5},{"r":11,"l":2,"x":58.6,"y":19.5},
{"r":12,"l":1,"x":58.6,"y":23.7},{"r":12,"l":1,"x":61,"y":23.9},{"r":12,"l":1,"x":64.8,"y":23.8},{"r":12,"l":1,"x":66.8,"y":22},{"r":12,"l":1,"x":67.5,"y":20.6},{"r":12,"l":1,"x":67.6,"y":19.5},{"r":12,"l":1,"x":58.6,"y":19.5},
{"r":13,"l":9,"x":58.6,"y":37},{"r":13,"l":9,"x":62.7,"y":37.1},{"r":13,"l":9,"x":64.7,"y":38.6},{"r":13,"l":9,"x":65.8,"y":40.6},{"r":13,"l":9,"x":106,"y":40.6},{"r":13,"l":9,"x":106,"y":36},{"r":13,"l":9,"x":105,"y":33},{"r":13,"l":9,"x":104.2,"y":30},{"r":13,"l":9,"x":104,"y":27.8},{"r":13,"l":9,"x":100,"y":27.7},{"r":13,"l":9,"x":93,"y":27.5},{"r":13,"l":9,"x":87,"y":27.4},{"r":13,"l":9,"x":83,"y":27.8},{"r":13,"l":9,"x":80.3,"y":28.7},{"r":13,"l":9,"x":78,"y":30},{"r":13,"l":9,"x":74.5,"y":30.2},{"r":13,"l":9,"x":71,"y":28.8},{"r":13,"l":9,"x":67.5,"y":26.9},{"r":13,"l":9,"x":63,"y":26},{"r":13,"l":9,"x":58.6,"y":25.7},
{"r":14,"l":10,"x":58.6,"y":35},{"r":14,"l":10,"x":61,"y":36},{"r":14,"l":10,"x":63,"y":37.5},{"r":14,"l":10,"x":66,"y":38.8},{"r":14,"l":10,"x":68.3,"y":40.6},{"r":14,"l":10,"x":105.5,"y":40.6},{"r":14,"l":10,"x":105.5,"y":34},{"r":14,"l":10,"x":103.6,"y":30.5},{"r":14,"l":10,"x":102,"y":28.6},{"r":14,"l":10,"x":95,"y":28},{"r":14,"l":10,"x":87,"y":27.9},{"r":14,"l":10,"x":83,"y":28.3},{"r":14,"l":10,"x":80,"y":29.5},{"r":14,"l":10,"x":77,"y":31.2},{"r":14,"l":10,"x":74.5,"y":31.5},{"r":14,"l":10,"x":72,"y":30},{"r":14,"l":10,"x":69,"y":28},{"r":14,"l":10,"x":64,"y":26.8},{"r":14,"l":10,"x":58.6,"y":26.4},
{"r":15,"l":11,"x":58.6,"y":34},{"r":15,"l":11,"x":62.5,"y":35.8},{"r":15,"l":11,"x":66,"y":37.5},{"r":15,"l":11,"x":69,"y":39.6},{"r":15,"l":11,"x":70.2,"y":40.6},{"r":15,"l":11,"x":78.5,"y":40.6},{"r":15,"l":11,"x":80,"y":39.8},{"r":15,"l":11,"x":90,"y":39.8},{"r":15,"l":11,"x":90.5,"y":40.6},{"r":15,"l":11,"x":102,"y":40.6},{"r":15,"l":11,"x":103.6,"y":37.5},{"r":15,"l":11,"x":105.5,"y":34},{"r":15,"l":11,"x":104,"y":31.5},{"r":15,"l":11,"x":102.5,"y":29.5},{"r":15,"l":11,"x":95,"y":28.3},{"r":15,"l":11,"x":87,"y":28.2},{"r":15,"l":11,"x":83,"y":28.8},{"r":15,"l":11,"x":80,"y":30},{"r":15,"l":11,"x":77,"y":32},{"r":15,"l":11,"x":74.5,"y":32.5},{"r":15,"l":11,"x":72.5,"y":31},{"r":15,"l":11,"x":69.5,"y":29},{"r":15,"l":11,"x":66.7,"y":27.3},{"r":15,"l":11,"x":62,"y":27},{"r":15,"l":11,"x":58.6,"y":26.8},
{"r":16,"l":12,"x":65.3,"y":35},{"r":16,"l":12,"x":67,"y":36.8},{"r":16,"l":12,"x":69.5,"y":37.6},{"r":16,"l":12,"x":70.5,"y":38.9},{"r":16,"l":12,"x":72,"y":39.6},{"r":16,"l":12,"x":74,"y":39.2},{"r":16,"l":12,"x":77,"y":38.4},{"r":16,"l":12,"x":78,"y":36.5},{"r":16,"l":12,"x":82,"y":36.3},{"r":16,"l":12,"x":88,"y":36.3},{"r":16,"l":12,"x":92,"y":36.5},{"r":16,"l":12,"x":97,"y":36},{"r":16,"l":12,"x":100,"y":35},{"r":16,"l":12,"x":101.5,"y":33.5},{"r":16,"l":12,"x":101,"y":32},{"r":16,"l":12,"x":98.5,"y":30},{"r":16,"l":12,"x":93,"y":29.2},{"r":16,"l":12,"x":87.5,"y":28.6},{"r":16,"l":12,"x":83.5,"y":29.1},{"r":16,"l":12,"x":80.3,"y":31},{"r":16,"l":12,"x":77.5,"y":33},{"r":16,"l":12,"x":75.5,"y":33.5},{"r":16,"l":12,"x":73.4,"y":34.6},{"r":16,"l":12,"x":71,"y":34.5},{"r":16,"l":12,"x":68.6,"y":32.8},{"r":16,"l":12,"x":66.2,"y":33},
{"r":17,"l":13,"x":66,"y":34.7},{"r":17,"l":13,"x":69,"y":35.8},{"r":17,"l":13,"x":71,"y":37.2},{"r":17,"l":13,"x":71.3,"y":38.4},{"r":17,"l":13,"x":74,"y":38},{"r":17,"l":13,"x":75,"y":36.7},{"r":17,"l":13,"x":76,"y":35.6},{"r":17,"l":13,"x":80,"y":35.1},{"r":17,"l":13,"x":82.4,"y":34.7},{"r":17,"l":13,"x":85.1,"y":33.1},{"r":17,"l":13,"x":88.5,"y":32.5},{"r":17,"l":13,"x":89.5,"y":30.9},{"r":17,"l":13,"x":87.5,"y":29.3},{"r":17,"l":13,"x":84.3,"y":29.7},{"r":17,"l":13,"x":81,"y":31.3},{"r":17,"l":13,"x":79,"y":33.3},{"r":17,"l":13,"x":75.5,"y":34.3},{"r":17,"l":13,"x":73.4,"y":35.2},{"r":17,"l":13,"x":71,"y":35.3},{"r":17,"l":13,"x":68.6,"y":33.9},{"r":17,"l":13,"x":66.8,"y":33.7},
{"r":18,"l":14,"x":79.3,"y":34},{"r":18,"l":14,"x":80.3,"y":34.6},{"r":18,"l":14,"x":81.7,"y":33.9},{"r":18,"l":14,"x":84.4,"y":31.4},{"r":18,"l":14,"x":87.1,"y":29.8},{"r":18,"l":14,"x":84.7,"y":29.8},{"r":18,"l":14,"x":81.7,"y":31.1},{"r":18,"l":14,"x":79.7,"y":32.8},
{"r":19,"l":14,"x":70.3,"y":38.6},{"r":19,"l":14,"x":71,"y":38.9},{"r":19,"l":14,"x":71.5,"y":37.5},{"r":19,"l":14,"x":74.2,"y":37.6},{"r":19,"l":14,"x":74.6,"y":37.2},{"r":19,"l":14,"x":72.2,"y":36.7},{"r":19,"l":14,"x":70.8,"y":36.1}
]},
"vconcat":[{"spacing":35,"vconcat":[
{"spacing":61,"hconcat":[
{"title":"RCP 4.5 (2036–2065)","width":557,"height":247,"view":{"fill":"#e21f2a"},
"layer":[
{"data":{"name":"c1"},"mark":{"type":"line","interpolate":"cardinal-closed","clip":true,"stroke":"#ffb0b0","strokeOpacity":0.45,"strokeWidth":0.8},"encoding":{"x":{"field":"x","type":"quantitative","scale":{"domain":[60,105],"nice":false,"zero":false},"axis":{"values":[60,65,70,75,80,85,90,95,100,105],"labelExpr":"datum.value%10==0&&datum.value<105?datum.value+'˚E':''","tickSize":-3,"domainWidth":2,"domainColor":"#111","tickColor":"#333","labelPadding":15}},"y":{"field":"y","type":"quantitative","scale":{"domain":[20,40.55],"nice":false,"zero":false},"axis":{"values":[20,25,30,35,40],"labelExpr":"datum.value%10==0?datum.value+'˚N':''","tickSize":-3,"domainColor":"#333","tickColor":"#333","labelPadding":16}},"detail":{"field":"r"},"order":{"value":null},"fill":{"field":"l","type":"ordinal","scale":{"domain":[0,1,2,3,4,5,6,7,8,9,10,11,12,13,14],"range":["#f9dcdc","#fbbcc0","#f6979b","#f27a80","#ee5a60","#ea3a38","#ee2a22","#ed1c24","#e21f2a","#d9202a","#c8202a","#b91f26","#a81e22","#931a1e","#7d1416"]},"legend":null}}},
{"data":{"name":"strips"},"mark":{"type":"rect","fill":"white","clip":true},"encoding":{"y":{"field":"a","type":"quantitative"},"y2":{"field":"b"}}},
{"data":{"name":"border"},"mark":{"type":"line","clip":true,"stroke":"#111","strokeWidth":1.9,"strokeJoin":"round"},"encoding":{"x":{"field":"x","type":"quantitative"},"y":{"field":"y","type":"quantitative"},"detail":{"field":"b"},"order":{"value":null}}},
{"data":{"name":"dots"},"mark":{"type":"circle","color":"#222","size":5,"opacity":1},"encoding":{"x":{"field":"x","type":"quantitative"},"y":{"field":"y","type":"quantitative"}}}
]},
{"title":"RCP 8.5 (2036–2065)","width":557,"height":247,"view":{"fill":"#e21f2a"},
"layer":[
{"data":{"name":"c2"},"mark":{"type":"line","interpolate":"cardinal-closed","clip":true,"stroke":"#ffb0b0","strokeOpacity":0.45,"strokeWidth":0.8},"encoding":{"x":{"field":"x","type":"quantitative","scale":{"domain":[60,105],"nice":false,"zero":false},"axis":{"values":[60,65,70,75,80,85,90,95,100,105],"labelExpr":"datum.value%10==0&&datum.value<105?datum.value+'˚E':''","tickSize":-3,"domainWidth":2,"domainColor":"#111","tickColor":"#333","labelPadding":15}},"y":{"field":"y","type":"quantitative","scale":{"domain":[20,40.55],"nice":false,"zero":false},"axis":{"values":[20,25,30,35,40],"labelExpr":"datum.value%10==0?datum.value+'˚N':''","tickSize":-3,"domainColor":"#333","tickColor":"#333","labelPadding":16}},"detail":{"field":"r"},"order":{"value":null},"fill":{"field":"l","type":"ordinal","scale":{"domain":[0,1,2,3,4,5,6,7,8,9,10,11,12,13,14],"range":["#f9dcdc","#fbbcc0","#f6979b","#f27a80","#ee5a60","#ea3a38","#ee2a22","#ed1c24","#e21f2a","#d9202a","#c8202a","#b91f26","#a81e22","#931a1e","#7d1416"]},"legend":null}}},
{"data":{"name":"strips"},"mark":{"type":"rect","fill":"white","clip":true},"encoding":{"y":{"field":"a","type":"quantitative"},"y2":{"field":"b"}}},
{"data":{"name":"border"},"mark":{"type":"line","clip":true,"stroke":"#111","strokeWidth":1.9,"strokeJoin":"round"},"encoding":{"x":{"field":"x","type":"quantitative"},"y":{"field":"y","type":"quantitative"},"detail":{"field":"b"},"order":{"value":null}}},
{"data":{"name":"dots"},"mark":{"type":"circle","color":"#222","size":5,"opacity":1},"encoding":{"x":{"field":"x","type":"quantitative"},"y":{"field":"y","type":"quantitative"}}}
]}
]},
{"spacing":61,"hconcat":[
{"title":"RCP 4.5 (2066–2095)","width":557,"height":247,"view":{"fill":"#e21f2a"},
"layer":[
{"data":{"name":"c3"},"mark":{"type":"line","interpolate":"cardinal-closed","clip":true,"stroke":"#ffb0b0","strokeOpacity":0.45,"strokeWidth":0.8},"encoding":{"x":{"field":"x","type":"quantitative","scale":{"domain":[60,105],"nice":false,"zero":false},"axis":{"values":[60,65,70,75,80,85,90,95,100,105],"labelExpr":"datum.value%10==0&&datum.value<105?datum.value+'˚E':''","tickSize":-3,"domainWidth":2,"domainColor":"#111","tickColor":"#333","labelPadding":15}},"y":{"field":"y","type":"quantitative","scale":{"domain":[20,40.55],"nice":false,"zero":false},"axis":{"values":[20,25,30,35,40],"labelExpr":"datum.value%10==0?datum.value+'˚N':''","tickSize":-3,"domainColor":"#333","tickColor":"#333","labelPadding":16}},"detail":{"field":"r"},"order":{"value":null},"fill":{"field":"l","type":"ordinal","scale":{"domain":[0,1,2,3,4,5,6,7,8,9,10,11,12,13,14],"range":["#f9dcdc","#fbbcc0","#f6979b","#f27a80","#ee5a60","#ea3a38","#ee2a22","#ed1c24","#e21f2a","#d9202a","#c8202a","#b91f26","#a81e22","#931a1e","#7d1416"]},"legend":null}}},
{"data":{"name":"strips"},"mark":{"type":"rect","fill":"white","clip":true},"encoding":{"y":{"field":"a","type":"quantitative"},"y2":{"field":"b"}}},
{"data":{"name":"border"},"mark":{"type":"line","clip":true,"stroke":"#111","strokeWidth":1.9,"strokeJoin":"round"},"encoding":{"x":{"field":"x","type":"quantitative"},"y":{"field":"y","type":"quantitative"},"detail":{"field":"b"},"order":{"value":null}}},
{"data":{"name":"dots"},"mark":{"type":"circle","color":"#222","size":5,"opacity":1},"encoding":{"x":{"field":"x","type":"quantitative"},"y":{"field":"y","type":"quantitative"}}}
]},
{"title":"RCP 8.5 (2066–2095)","width":557,"height":247,"view":{"fill":"#e21f2a"},
"layer":[
{"data":{"name":"c4"},"mark":{"type":"line","interpolate":"cardinal-closed","clip":true,"stroke":"#ffb0b0","strokeOpacity":0.45,"strokeWidth":0.8},"encoding":{"x":{"field":"x","type":"quantitative","scale":{"domain":[60,105],"nice":false,"zero":false},"axis":{"values":[60,65,70,75,80,85,90,95,100,105],"labelExpr":"datum.value%10==0&&datum.value<105?datum.value+'˚E':''","tickSize":-3,"domainWidth":2,"domainColor":"#111","tickColor":"#333","labelPadding":15}},"y":{"field":"y","type":"quantitative","scale":{"domain":[20,40.55],"nice":false,"zero":false},"axis":{"values":[20,25,30,35,40],"labelExpr":"datum.value%10==0?datum.value+'˚N':''","tickSize":-3,"domainColor":"#333","tickColor":"#333","labelPadding":16}},"detail":{"field":"r"},"order":{"value":null},"fill":{"field":"l","type":"ordinal","scale":{"domain":[0,1,2,3,4,5,6,7,8,9,10,11,12,13,14],"range":["#f9dcdc","#fbbcc0","#f6979b","#f27a80","#ee5a60","#ea3a38","#ee2a22","#ed1c24","#e21f2a","#d9202a","#c8202a","#b91f26","#a81e22","#931a1e","#7d1416"]},"legend":null}}},
{"data":{"name":"strips"},"mark":{"type":"rect","fill":"white","clip":true},"encoding":{"y":{"field":"a","type":"quantitative"},"y2":{"field":"b"}}},
{"data":{"name":"border"},"mark":{"type":"line","clip":true,"stroke":"#111","strokeWidth":1.9,"strokeJoin":"round"},"encoding":{"x":{"field":"x","type":"quantitative"},"y":{"field":"y","type":"quantitative"},"detail":{"field":"b"},"order":{"value":null}}},
{"data":{"name":"dots"},"mark":{"type":"circle","color":"#222","size":5,"opacity":1},"encoding":{"x":{"field":"x","type":"quantitative"},"y":{"field":"y","type":"quantitative"}}}
]}
]}
]},
{"width":1242,"height":42,"view":{"stroke":null},
"layer":[
{"data":{"values":[{"a":1.1,"b":1.2,"l":0},{"a":1.2,"b":1.3,"l":1},{"a":1.3,"b":1.4,"l":2},{"a":1.4,"b":1.5,"l":3},{"a":1.5,"b":1.6,"l":4},{"a":1.6,"b":1.7,"l":5},{"a":1.7,"b":1.8,"l":6},{"a":1.8,"b":1.9,"l":7},{"a":1.9,"b":2,"l":8},{"a":2,"b":2.1,"l":9},{"a":2.1,"b":2.2,"l":10},{"a":2.2,"b":2.3,"l":11},{"a":2.3,"b":2.4,"l":12},{"a":2.4,"b":2.5,"l":13},{"a":2.5,"b":2.6,"l":14}]},"mark":{"type":"rect"},"encoding":{"x":{"field":"a","type":"quantitative","scale":{"domain":[0.4573,3.3378],"nice":false,"zero":false},"axis":{"values":[1.2,1.4,1.6,1.8,2,2.2,2.4],"labelExpr":"'+'+datum.value","domain":false,"ticks":false,"labelPadding":12}},"x2":{"field":"b"},"fill":{"field":"l","type":"ordinal","scale":{"domain":[0,1,2,3,4,5,6,7,8,9,10,11,12,13,14],"range":["#f9dcdc","#fbbcc0","#f6979b","#f27a80","#ee5a60","#ea3a38","#ee2a22","#ed1c24","#e21f2a","#d9202a","#c8202a","#b91f26","#a81e22","#931a1e","#7d1416"]},"legend":null}}},
{"data":{"values":[{"x":1.03,"y":0.81,"t":"Annual mean"},{"x":1.03,"y":0.05,"t":"temperature change"}]},"mark":{"type":"text","align":"right","font":"Lato","fontSize":22,"color":"#3a3a3a"},"encoding":{"x":{"field":"x","type":"quantitative"},"y":{"field":"y","type":"quantitative","scale":{"domain":[0,1]},"axis":null},"text":{"field":"t"}}},
{"data":{"values":[{"x":2.62,"y":0.4,"t":"˚C"}]},"mark":{"type":"text","align":"left","font":"Lato","fontSize":22,"color":"#3a3a3a"},"encoding":{"x":{"field":"x","type":"quantitative"},"y":{"field":"y","type":"quantitative","scale":{"domain":[0,1]},"axis":null},"text":{"field":"t"}}}
]}
]}
